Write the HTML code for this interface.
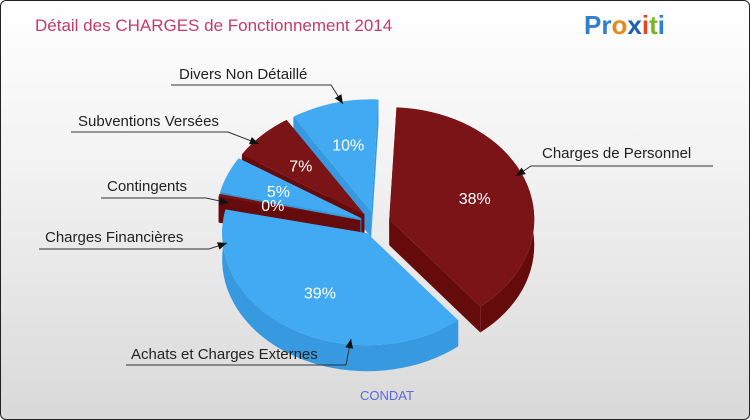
<!DOCTYPE html>
<html><head><meta charset="utf-8"><style>
html,body{margin:0;padding:0;}
body{width:750px;height:420px;overflow:hidden;font-family:"Liberation Sans",sans-serif;}
#frame{position:absolute;left:0;top:0;width:748px;height:418px;border:1px solid #222;border-radius:6px;background:linear-gradient(#ffffff,#f2f2f2 40%,#d9d9d9);overflow:hidden;}
</style></head><body>
<div id="frame">
<svg id="chart" width="750" height="420">
<text x="34" y="30" font-size="17" fill="#c63a66">Détail des CHARGES de Fonctionnement 2014</text>
<text x="583" y="33" font-size="26" font-weight="bold"><tspan fill="#2f7fd0">Pr</tspan><tspan fill="#e38a1d">o</tspan><tspan fill="#1a5fb8">x</tspan><tspan fill="#e04a1a">i</tspan><tspan fill="#7bb52a">t</tspan><tspan fill="#2f7fd0">i</tspan></text>
<g id="pie"></g>
<g id="labels"></g>
<text x="386" y="399" font-size="13" fill="#5a6ad8" text-anchor="middle">CONDAT</text>
</svg>
</div>
<script>
const categories=["Charges de Personnel","Achats et Charges Externes","Charges Financières","Contingents","Subventions Versées","Divers Non Détaillé"];
const values=[38.4,39.2,0.4,5.2,7.0,9.8];
const pctLabels=["38%","39%","0%","5%","7%","10%"];
const colorsTop=["#7a1416","#42aaf2","#7a1416","#42aaf2","#7a1416","#42aaf2"];
const colorsSide=["#650b0c","#379ae0","#650b0c","#379ae0","#650b0c","#379ae0"];
const cx=374,cy=222,rx=145,ry=112,depth=26,explode=15;
const NS="http://www.w3.org/2000/svg";
const pie=document.getElementById('pie');
const total=values.reduce((a,b)=>a+b,0);
function pt(ox,oy,t,r){return [ox+r*rx*Math.sin(t),oy-r*ry*Math.cos(t)];}
let a=0.05;const slices=[];
values.forEach((v,i)=>{const s=a,e=a+v/total*2*Math.PI;a=e;const m=(s+e)/2;
 slices.push({i,s,e,m,ox:cx+explode*Math.sin(m),oy:cy-explode*0.8*Math.cos(m)});});
function mk(tag,attrs){const el=document.createElementNS(NS,tag);for(const k in attrs)el.setAttribute(k,attrs[k]);return el;}
const order=slices.slice().sort((p,q)=>(-Math.cos(p.m))-(-Math.cos(q.m)));
order.forEach(sl=>{
 const g=mk('g',{});
 
 
 const N=40;let top=[];
 for(let k=0;k<=N;k++){const t=sl.s+(sl.e-sl.s)*k/N;top.push(pt(sl.ox,sl.oy,t,1));}
 const c=[sl.ox,sl.oy];
 [sl.s,sl.e].forEach(t=>{const p=pt(sl.ox,sl.oy,t,1);
  g.appendChild(mk('path',{d:`M${c[0]},${c[1]}L${p[0]},${p[1]}L${p[0]},${p[1]+depth}L${c[0]},${c[1]+depth}Z`,fill:colorsSide[sl.i]}));});
 let d='M'+top.map(p=>p[0]+','+p[1]).join('L');
 d+='L'+top.slice().reverse().map(p=>p[0]+','+(p[1]+depth)).join('L')+'Z';
 g.appendChild(mk('path',{d,fill:colorsSide[sl.i]}));
 g.appendChild(mk('path',{d:`M${c[0]},${c[1]}L`+top.map(p=>p[0]+','+p[1]).join('L')+'Z',fill:colorsTop[sl.i]}));
 pie.appendChild(g);
});
slices.forEach(sl=>{const p=pt(sl.ox,sl.oy,sl.m,0.62);
 const t=mk('text',{x:p[0],y:p[1]+6,'font-size':'16',fill:'#fff','text-anchor':'middle'});
 t.textContent=pctLabels[sl.i];
 
 
 pie.appendChild(t);});
const labelText=["Charges de Personnel","Achats et Charges Externes","Charges Financières","Contingents","Subventions Versées","Divers Non Détaillé"];
const lab=document.getElementById('labels');
const L=[[541,157,530,712,165,515,175,1],[130,358,125,345,364,350,338,0],[44,241,38,208,248,226,242,0],[106,190,100,205,197,228,202,0],[77,125,70,227,131,258,143,0],[178,78,170,330,84,342,103,0]];
L.forEach((l,i)=>{
 const t=mk('text',{x:l[0],y:l[1],'font-size':'15',fill:'#222'});t.textContent=labelText[i];
 
 
 lab.appendChild(t);
 const sx=l[7]?l[2]:l[3];
 lab.appendChild(mk('path',{d:`M${l[7]?l[3]:l[2]},${l[4]}L${sx},${l[4]}L${l[5]},${l[6]}`,stroke:'#333','stroke-width':'1',fill:'none'}));
 const ang=Math.atan2(l[6]-l[4],l[5]-sx),ax=l[5],ay=l[6];
 const p1=[ax-10*Math.cos(ang-0.4),ay-10*Math.sin(ang-0.4)],p2=[ax-10*Math.cos(ang+0.4),ay-10*Math.sin(ang+0.4)];
 lab.appendChild(mk('path',{d:`M${ax},${ay}L${p1[0]},${p1[1]}L${p2[0]},${p2[1]}Z`,fill:'#111'}));
});
</script>
</body></html>
